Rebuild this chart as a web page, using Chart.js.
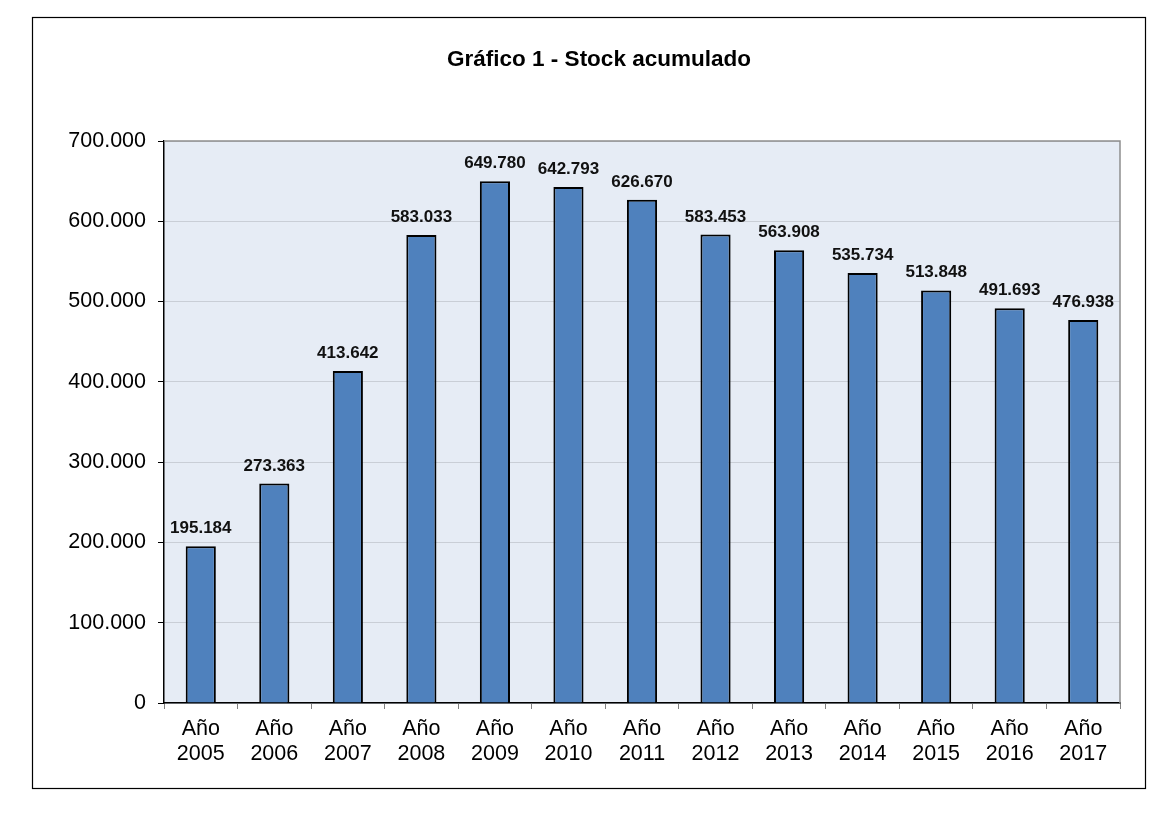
<!DOCTYPE html>
<html lang="es">
<head>
<meta charset="utf-8">
<title>Gráfico 1 - Stock acumulado</title>
<script src="https://cdn.jsdelivr.net/npm/chart.js@4/dist/chart.umd.min.js"></script>
<style>
  html, body { margin:0; padding:0; background:#fff; }
  #wrap { width:1169px; height:813px; }
</style>
</head>
<body>
<div id="wrap"><canvas id="chart-stock" width="1169" height="813"></canvas></div>
<script>
// datos
const anios   = ['2005','2006','2007','2008','2009','2010','2011','2012','2013','2014','2015','2016','2017'];
const stock   = [195184, 273363, 413642, 583033, 649780, 642793, 626670, 583453, 563908, 535734, 513848, 491693, 476938];
const yTicks  = [0, 100000, 200000, 300000, 400000, 500000, 600000, 700000];
const titulo  = 'Gráfico 1 - Stock acumulado';

const FONT = '"Liberation Sans", Arial, sans-serif';

// 583033 -> "583.033"
const fmt = n => String(n).replace(/\B(?=(\d{3})+(?!\d))/g, '.');

// fondo blanco, marco exterior, titulo y fondo del area de trazado
const fondo = {
  id: 'fondo',
  beforeDraw(chart) {
    const { ctx, chartArea: a } = chart;
    ctx.save();
    ctx.fillStyle = '#fff';
    ctx.fillRect(0, 0, chart.width, chart.height);
    ctx.strokeStyle = '#000';
    ctx.lineWidth = 1.2;
    ctx.strokeRect(32.5, 17.5, 1113, 771);
    ctx.fillStyle = '#e6ecf5';
    ctx.fillRect(a.left, a.top, a.right - a.left, a.bottom - a.top);
    // titulo centrado en el marco
    ctx.font = `bold 22.5px ${FONT}`;
    ctx.fillStyle = '#000';
    ctx.textAlign = 'center';
    ctx.textBaseline = 'middle';
    ctx.fillText(titulo, 599, 60);
    ctx.restore();
  },
  afterDraw(chart) {
    const { ctx, chartArea: a } = chart;
    ctx.save();
    ctx.strokeStyle = '#8e8e8e';
    ctx.lineWidth = 1.5;
    ctx.beginPath();
    ctx.moveTo(a.left, a.top);
    ctx.lineTo(a.right, a.top);
    ctx.lineTo(a.right, a.bottom);
    ctx.stroke();
    ctx.restore();
  }
};

// etiquetas de valor sobre cada barra
const etiquetas = {
  id: 'etiquetas',
  afterDatasetsDraw(chart) {
    const { ctx } = chart;
    const meta = chart.getDatasetMeta(0);
    ctx.save();
    ctx.font = `bold 17px ${FONT}`;
    ctx.fillStyle = '#111';
    ctx.textAlign = 'center';
    ctx.textBaseline = 'alphabetic';
    meta.data.forEach((bar, i) => {
      ctx.fillText(fmt(stock[i]), bar.x, bar.y - 13);
    });
    ctx.restore();
  }
};

new Chart(document.getElementById('chart-stock'), {
  type: 'bar',
  data: {
    labels: anios.map(a => ['Año', a]),
    datasets: [{
      label: 'Stock acumulado',
      data: stock,
      backgroundColor: '#4f81bd',
      borderColor: '#000',
      borderWidth: 2,
      barPercentage: 0.41,
      categoryPercentage: 1
    }]
  },
  options: {
    responsive: false,
    animation: false,
    devicePixelRatio: 1,
    layout: { padding: { left: 50, right: 49, top: 141, bottom: 0 } },
    plugins: {
      legend: { display: false },
      tooltip: { enabled: false },
      title: { display: false }
    },
    scales: {
      x: {
        afterFit(s) { s.height = 110; },
        grid: { drawOnChartArea: false, drawTicks: true, tickLength: 6, tickColor: '#808080', offset: true },
        border: { color: '#000', width: 1.5 },
        ticks: { color: '#000', padding: 8, maxRotation: 0, autoSkip: false,
                 font: { family: FONT, size: 21.5, lineHeight: 25 / 21.5 } }
      },
      y: {
        min: 0,
        max: 700000,
        afterFit(s) { s.width = 114; },
        afterBuildTicks(s) { s.ticks = yTicks.map(v => ({ value: v })); },
        grid: { color: '#c9ced6', lineWidth: 1, tickLength: 6, tickColor: '#000' },
        border: { color: '#000', width: 1.5 },
        ticks: { color: '#000', padding: 12, callback: v => fmt(v),
                 font: { family: FONT, size: 21.5 } }
      }
    }
  },
  plugins: [fondo, etiquetas]
});
</script>
</body>
</html>
